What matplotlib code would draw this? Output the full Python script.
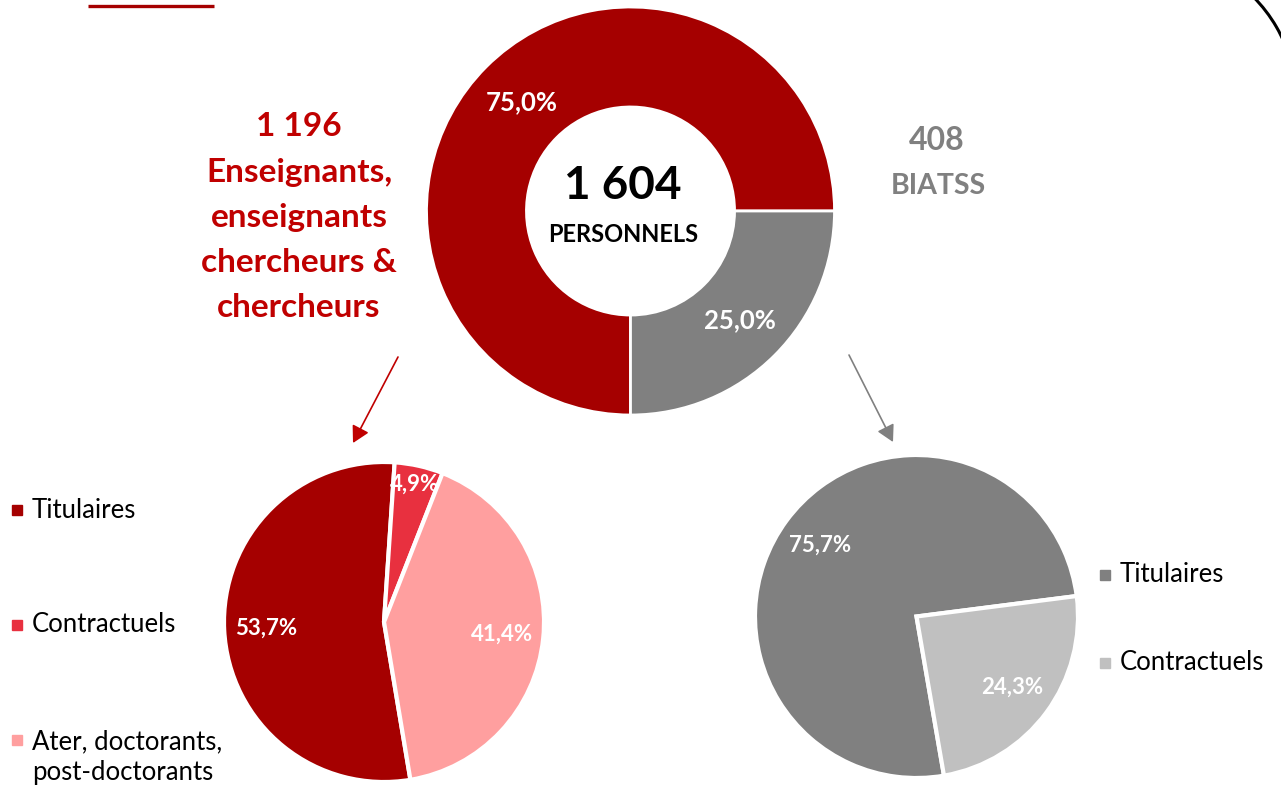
import matplotlib
matplotlib.use("Agg")
import matplotlib.pyplot as plt
import numpy as np
from matplotlib.patches import Arc

# ---------------- data ----------------
main_categories = ["Enseignants, enseignants chercheurs & chercheurs", "BIATSS"]
main_counts = [1196, 408]
main_pct = [75.0, 25.0]

ens_categories = ["Titulaires", "Contractuels", "Ater, doctorants,\npost-doctorants"]
ens_pct = [53.7, 4.9, 41.4]

biatss_categories = ["Titulaires", "Contractuels"]
biatss_pct = [75.7, 24.3]

# ---------------- style ----------------
RED_DARK = "#A50000"
RED_TEXT = "#C00000"
RED_MID = "#E8303F"
RED_LIGHT = "#FF9F9F"
GREY = "#808080"
GREY_LIGHT = "#C0C0C0"
FONT = "Lato"

W, H = 1281, 786
fig = plt.figure(figsize=(W / 100, H / 100), dpi=100)
ax = fig.add_axes([0, 0, 1, 1])


def Y(y):
    return H - y


def fmt_pct(v):
    return f"{v:.1f}".replace(".", ",") + "%"


def fmt_int(v):
    return f"{v:,}".replace(",", " ")


def put_labels(wedges, values, radius, dists, size):
    for w, v, d in zip(wedges, values, dists):
        th = np.deg2rad((w.theta1 + w.theta2) / 2)
        cx, cy = w.center
        ax.text(cx + radius * d * np.cos(th), cy + radius * d * np.sin(th),
                fmt_pct(v), ha="center", va="center", color="white",
                fontsize=size, fontweight="bold", family=FONT)


# ---------------- donut ----------------
total = sum(main_counts)
c_main = (630.5, Y(211))
r_main = 204
w_main, _ = ax.pie(main_pct, colors=[RED_DARK, GREY], startangle=-90,
                   counterclock=False, center=c_main, radius=r_main,
                   wedgeprops=dict(width=r_main * 0.49, edgecolor="white", linewidth=2))
put_labels(w_main, main_pct, r_main, [0.755, 0.76], 18.5)

ax.text(623, Y(186), fmt_int(total), ha="center", va="center",
        fontsize=33, fontweight="bold", family=FONT, color="black")
ax.text(623, Y(234), "PERSONNELS", ha="center", va="center",
        fontsize=17, fontweight="bold", family=FONT, color="black")

# side captions
ens_lines = [fmt_int(main_counts[0]), "Enseignants,", "enseignants", "chercheurs &", "chercheurs"]
for i, line in enumerate(ens_lines):
    ax.text(299, Y(127 + 45.2 * i), line, ha="center", va="center",
            fontsize=24, fontweight="bold", family=FONT, color=RED_TEXT)
ax.text(937, Y(141), fmt_int(main_counts[1]), ha="center", va="center",
        fontsize=23, fontweight="bold", family=FONT, color=GREY)
ax.text(938, Y(186), main_categories[1], ha="center", va="center",
        fontsize=20.5, fontweight="bold", family=FONT, color=GREY)

# ---------------- left pie ----------------
c_left = (384, Y(622))
r_left = 160
w_left, _ = ax.pie(ens_pct, colors=[RED_DARK, RED_MID, RED_LIGHT], startangle=-80.5,
                   counterclock=False, center=c_left, radius=r_left,
                   explode=[0, 0, 0.025],
                   wedgeprops=dict(edgecolor="white", linewidth=3))
put_labels(w_left, ens_pct, r_left, [0.74, 0.88, 0.74], 16)

# ---------------- right pie ----------------
c_right = (916.5, Y(616.5))
r_right = 161.5
w_right, _ = ax.pie(biatss_pct, colors=[GREY, GREY_LIGHT], startangle=-80.2,
                    counterclock=False, center=c_right, radius=r_right,
                    wedgeprops=dict(edgecolor="white", linewidth=3))
put_labels(w_right, biatss_pct, r_right, [0.74, 0.74], 16)

# ---------------- legends ----------------
left_leg_y = [510, 625, 740]
for lab, col, y in zip(ens_categories, [RED_DARK, RED_MID, RED_LIGHT], left_leg_y):
    ax.plot([17], [Y(y)], marker="s", markersize=7.5, color=col, linestyle="none")
    n = lab.count("\n")
    ax.text(32, Y(y + n * 17), lab, ha="left", va="center",
            fontsize=18.5, family=FONT, color="black", linespacing=1.3)
right_leg_y = [575, 663]
for lab, col, y in zip(biatss_categories, [GREY, GREY_LIGHT], right_leg_y):
    ax.plot([1105], [Y(y)], marker="s", markersize=7.5, color=col, linestyle="none")
    ax.text(1120, Y(y), lab, ha="left", va="center",
            fontsize=18.5, family=FONT, color="black")

# ---------------- arrows ----------------
ax.annotate("", xy=(353, Y(443)), xytext=(398, Y(357)),
            arrowprops=dict(arrowstyle="-|>,head_length=1.0,head_width=0.55",
                            color="#C00000", lw=1.2, shrinkA=0, shrinkB=0))
ax.annotate("", xy=(893, Y(442)), xytext=(849, Y(355)),
            arrowprops=dict(arrowstyle="-|>,head_length=1.0,head_width=0.55",
                            color=GREY, lw=1.2, shrinkA=0, shrinkB=0))

# ---------------- decorations ----------------
ax.plot([88, 214], [Y(5.5), Y(5.5)], color=RED_DARK, lw=2.4, solid_capstyle="butt")
ax.add_patch(Arc((1150, Y(100)), 292, 292, theta1=0, theta2=60, color="black", lw=2.2))

ax.set_xlim(0, W)
ax.set_ylim(0, H)
ax.set_aspect("equal", adjustable="box")
ax.axis("off")
fig.savefig("out.png", dpi=100, facecolor="white")
